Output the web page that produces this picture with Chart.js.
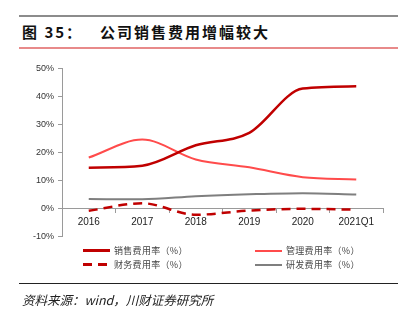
<!DOCTYPE html>
<html>
<head>
<meta charset="utf-8">
<script src="https://cdn.jsdelivr.net/npm/chart.js@4/dist/chart.umd.min.js"></script>
<style>
  body { margin: 0; width: 410px; height: 323px; background: #fff; position: relative; overflow: hidden;
         font-family: "Liberation Sans", Arial, sans-serif; }
  .rule { position: absolute; left: 19px; width: 379px; }
  .title { position: absolute; top: 21px; font: bold 15px "Noto Sans CJK SC", sans-serif; color: #111; white-space: pre; letter-spacing: 2px; }
  #chartBox { position: absolute; left: 0; top: 59px; width: 410px; height: 187px; }
  .leg { position: absolute; font: 9px "Noto Sans CJK SC", sans-serif; color: #444; display: flex; align-items: center; letter-spacing: 0.3px; }
  .leg i { display: inline-block; width: 27px; margin-right: 4px; }
  #source { position: absolute; left: 22px; top: 290px; font: italic 12.5px "Noto Sans CJK SC", sans-serif; color: #222; }
</style>
</head>
<body>
<div class="rule" style="top:15px;border-top:2px solid #8c8c8c"></div>
<div class="title" style="left:22px">图 35：</div>
<div class="title" style="left:100px">公司销售费用增幅较大</div>
<div class="rule" style="top:47px;border-top:2px solid #e88a8a"></div>
<div id="chartBox"><canvas id="costChart"></canvas></div>
<div id="legend"></div>
<div class="rule" style="top:283px;border-top:1px solid #222"></div>
<div id="source">资料来源：wind，川财证券研究所</div>
<script>
// periods on the x axis
const periods = ['2016', '2017', '2018', '2019', '2020', '2021Q1'];

// expense ratios, %
const salesRatio = [14.6, 15.3, 22.6, 27.0, 42.8, 43.6];
const adminRatio = [18.2, 24.6, 17.5, 14.7, 11.2, 10.4];
const financeRatio = [-0.8, 1.9, -2.2, -0.7, -0.1, -0.4];
const rdRatio = [3.4, 3.3, 4.4, 5.1, 5.5, 5.0];

const seriesNames = ['销售费用率（%）', '管理费用率（%）', '财务费用率（%）', '研发费用率（%）'];
const yTicks = [-10, 0, 10, 20, 30, 40, 50];

const styles = [
  { color: '#c00000', width: 2.5, dash: [] },
  { color: '#ff4b4b', width: 2, dash: [] },
  { color: '#c00000', width: 2.5, dash: [9, 6] },
  { color: '#7f7f7f', width: 2, dash: [] }
];
const values = [salesRatio, adminRatio, financeRatio, rdRatio];

const datasets = values.map((v, i) => ({
  label: seriesNames[i],
  data: v,
  borderColor: styles[i].color,
  borderWidth: styles[i].width,
  borderDash: styles[i].dash,
  pointRadius: 0,
  tension: 0.4,
  cubicInterpolationMode: 'monotone',
  fill: false
}));

new Chart(document.getElementById('costChart'), {
  type: 'line',
  data: { labels: periods, datasets: datasets },
  options: {
    responsive: true,
    maintainAspectRatio: false,
    animation: false,
    layout: { padding: { left: 0, right: 27, top: 0, bottom: 0 } },
    plugins: { legend: { display: false }, tooltip: { enabled: false } },
    scales: {
      x: {
        type: 'category',
        offset: true,
        position: { y: 0 },
        grid: { display: true, drawOnChartArea: false, drawTicks: true, tickLength: 4, color: '#9a9a9a', offset: true },
        border: { color: '#9a9a9a', width: 1 },
        ticks: { color: '#222', font: { size: 10, family: 'Liberation Sans' }, padding: 4, autoSkip: false, maxRotation: 0 }
      },
      y: {
        min: -10, max: 50,
        afterBuildTicks: (s) => { s.ticks = yTicks.map(v => ({ value: v })); },
        afterFit: (s) => { s.width = 62; },
        grid: { display: true, drawOnChartArea: false, drawTicks: true, tickLength: 4, color: '#9a9a9a' },
        border: { color: '#9a9a9a', width: 1 },
        ticks: { color: '#333', font: { size: 9, family: 'Liberation Sans' }, padding: 4, callback: v => v + '%' }
      }
    }
  }
});

// two-column legend under the plot
const legend = document.getElementById('legend');
const legPos = [[83, 244], [255, 244], [83, 258], [255, 258]];
seriesNames.forEach((name, i) => {
  const d = document.createElement('div');
  d.className = 'leg';
  d.style.left = legPos[i][0] + 'px';
  d.style.top = legPos[i][1] + 'px';
  const s = styles[i];
  const sw = document.createElement('i');
  sw.style.height = s.width + 'px';
  sw.style.background = s.dash.length
    ? `linear-gradient(to right, ${s.color} 0 9px, transparent 9px 15px, ${s.color} 15px 24px, transparent 24px)`
    : s.color;
  d.appendChild(sw);
  d.appendChild(document.createTextNode(name));
  legend.appendChild(d);
});
</script>
</body>
</html>
